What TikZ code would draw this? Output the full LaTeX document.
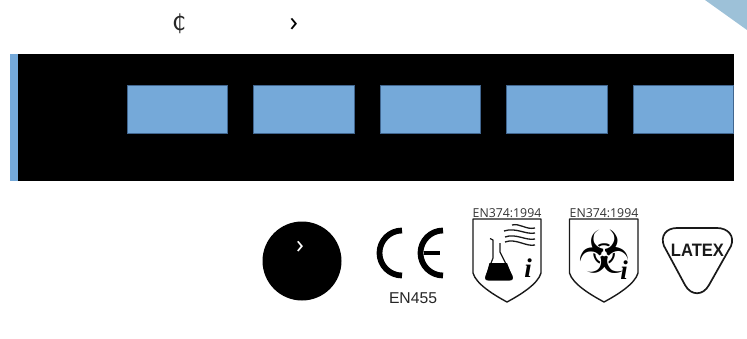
\documentclass[tikz,border=0pt]{standalone}
\usepackage{fontspec}
\setmainfont{Liberation Sans}
\newfontfamily\dejavu{DejaVu Sans}
\newfontfamily\opensans{Open Sans}
\newfontfamily\serifi{Liberation Serif}
\usetikzlibrary{positioning}
\definecolor{cellblue}{HTML}{75A9D9}
\definecolor{celledge}{HTML}{41668F}
\definecolor{cornerblue}{HTML}{9DC1D8}
\tikzset{
 cell/.style
  = {rectangle, draw=celledge, fill=cellblue, line width=0.7pt, inner sep=0pt,
     minimum width=100.5pt, minimum height=48pt},
 txt/.style
  = {inner sep=0pt, outer sep=0pt, text=black},
 outline/.style
  = {draw=black!90, line width=1.4pt, line join=round},
 wave/.style
  = {draw=black!90, line width=1.3pt},
 shieldtag/.style
  = {txt, text=black!80, font=\opensans\fontsize{12.3}{13}\selectfont},
 smalli/.style
  = {txt, font=\serifi\itshape\bfseries\fontsize{27}{27}\selectfont},
}
\begin{document}
\begin{tikzpicture}[x=1pt,y=-1pt]
\useasboundingbox (0,0) rectangle (747,338);

% Corner
\fill[cornerblue] (705,0) -- (747,0) -- (747,30) -- cycle;

% Top row
\node[txt, font=\dejavu\fontsize{22}{22}\selectfont, text=black!85] (cedi) at (179,24) {₵};
\node[txt, font=\opensans\fontsize{28}{28}\selectfont] (more) at (294,24.5) {›};

% Band
\fill[black] (10,54) rectangle (734,181);
\fill[cellblue] (10,54) rectangle (18,181);
\foreach \cx/\name in {177.3/one,303.8/two,430.3/three,556.8/four,683.3/five}
  \node[cell] (\name) at (\cx,109.3) {};

% Circle
\node[circle, fill=black, minimum size=79pt, inner sep=0pt] (disc) at (302,261) {};
\node[txt, text=white, font=\opensans\fontsize{26}{26}\selectfont] (discmore) at (300,247.5) {›};

% CE mark
\draw[line width=5.8pt] (402,275.5) arc[start angle=90, end angle=270, radius=22.5];
\draw[line width=5.8pt] (443,275.5) arc[start angle=90, end angle=270, radius=22.5];
\draw[line width=4pt] (424,253) -- (440,253);
\node[txt, text=black!85, font=\fontsize{15.7}{16}\selectfont] (en) at (413,298) {EN455};

% Shield A
\draw[outline] (473,219) -- (541,219) -- (541,273) .. controls (538,284) and (520,295) .. (507,302)
  .. controls (494,295) and (476,284) .. (473,273) -- cycle;
\node[shieldtag] (tagA) at (507,213) {EN374:1994};
\draw[outline, line width=1.2pt] (490,238.5) -- (493,240) -- (493,258) -- (486,276) .. controls (485,279) and (486,280) .. (489,280)
  -- (509,280) .. controls (512,280) and (513,279) .. (512,276) -- (500,252) -- (500,243);
\fill[black] (489.5,263) -- (507,263) -- (512,276) .. controls (513,279) and (512,280) .. (509,280) -- (489,280)
  .. controls (486,280) and (485,279) .. (486,276) -- cycle;
\draw[wave] (512,225) .. controls (520,223) and (526,230) .. (535,228);
\draw[wave] (504,231) .. controls (516,227) and (526,235) .. (535,233);
\draw[wave] (505,237) .. controls (516,233) and (526,241) .. (535,239);
\draw[wave] (505,242) .. controls (516,238) and (526,247) .. (535,245);
\node[smalli] (iA) at (528,268) {i};

% Shield B
\draw[outline] (569.5,219) -- (638,219) -- (638,273) .. controls (635,284) and (617,295) .. (604,302)
  .. controls (591,295) and (572.5,284) .. (569.5,273) -- cycle;
\node[shieldtag] (tagB) at (604,213) {EN374:1994};
\node[txt, font=\dejavu\fontsize{60}{60}\selectfont] (bio) at (604,252) {☣};
\node[smalli] (iB) at (624,270) {i};

% Latex badge
\draw[outline, line width=1.7pt] (677,228) -- (717,228) .. controls (728,228) and (735,236) .. (731,246)
  -- (709,285) .. controls (703,296) and (691,296) .. (685,285)
  -- (664,246) .. controls (660,236) and (666,228) .. (677,228) -- cycle;
\node[txt, xscale=0.92, font=\fontsize{18}{18}\selectfont\bfseries, text=black!90] (latex) at (697.5,250) {LATEX};
\end{tikzpicture}
\end{document}
